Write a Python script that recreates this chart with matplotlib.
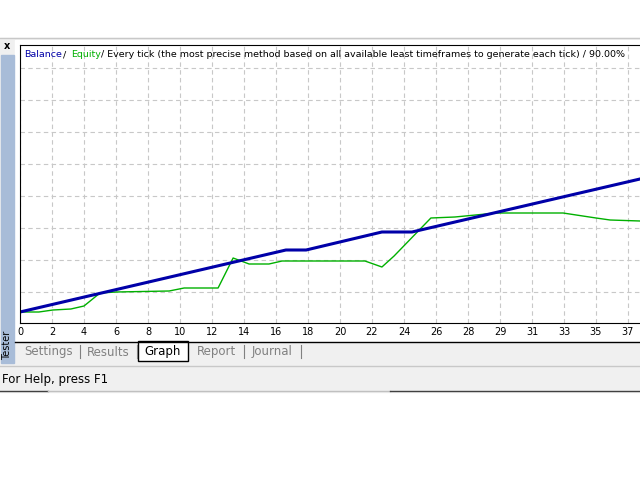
import matplotlib
matplotlib.use('Agg')
import matplotlib.pyplot as plt
from matplotlib.patches import Rectangle

# ── data (x in grid columns, y in chart units) ───────────────────────────
tick_labels = ['0', '2', '4', '6', '8', '10', '12', '14', '16', '18', '20',
               '22', '24', '26', '28', '29', '31', '33', '35', '37']
balance_x = [0, 8.31, 8.94, 11.31, 12.25, 19.375]
balance_y = [11, 73, 73, 91, 91, 144]
equity_x = [0, 0.59, 1.03, 1.59, 2.0, 2.5, 3.0, 4.66, 5.13, 6.19, 6.66, 7.16,
            7.78, 8.19, 10.78, 11.31, 11.69, 12.84, 13.59, 14.88, 16.97,
            18.0, 18.44, 19.375]
equity_y = [11, 11, 13, 14, 17, 30, 31, 32, 35, 35, 65, 59, 59, 62, 62, 56,
            67, 105, 106, 110, 110, 105, 103, 102]

W, H = 640, 480
fig = plt.figure(figsize=(6.4, 4.8), dpi=100)
fig.patch.set_facecolor('white')

def px(x0, y0, w, h):
    return [x0 / W, 1 - (y0 + h) / H, w / W, h / H]

bg = fig.add_axes([0, 0, 1, 1], zorder=0)
bg.set_xlim(0, W); bg.set_ylim(H, 0); bg.axis('off')
bg.add_patch(Rectangle((0, 38), W, 354, color='#f0f0f0'))
bg.add_patch(Rectangle((15, 40), W, 302, color='white'))
bg.plot([0, 640], [38, 38], color='#c8c8c8', lw=1)
bg.add_patch(Rectangle((1, 55), 13, 308, color='#a8bcd8'))
bg.text(7, 46, 'x', fontsize=7, fontweight='bold', ha='center', va='center')
bg.text(7, 345, 'Tester', fontsize=7, rotation=90, ha='center', va='center')
# tabs
bg.plot([15, 640], [342, 342], color='black', lw=1)
bg.add_patch(Rectangle((138, 341), 50, 20, facecolor='white', edgecolor='black', lw=1))
for lbl, xc, c in [('Settings', 49, '#808080'), ('Results', 108, '#808080'),
                   ('Graph', 163, 'black'), ('Report', 216, '#808080'),
                   ('Journal', 272, '#808080')]:
    bg.text(xc, 352, lbl, fontsize=8.5, color=c, ha='center', va='center')
for xs in [80, 137, 244, 301]:
    bg.plot([xs, xs], [345, 358], color='#808080', lw=0.8)
bg.plot([0, 640], [366, 366], color='#c8c8c8', lw=1)
bg.text(2, 380, 'For Help, press F1', fontsize=8.5, ha='left', va='center')
bg.plot([0, 48], [391, 391], color='#404040', lw=1)
bg.plot([48, 390], [391, 391], color='#c0c0c0', lw=1)
bg.plot([390, 640], [391, 391], color='#404040', lw=1)

ax = fig.add_axes(px(20, 45, 620, 278), zorder=1)
ax.set_xlim(0, 19.375)
ax.set_ylim(0, 278)
ax.plot(equity_x, equity_y, color='#00b000', lw=1)
ax.plot(balance_x, balance_y, color='#0000a8', lw=2.2)
ax.set_xticks(range(len(tick_labels)))
ax.set_xticklabels(tick_labels, fontsize=7)
ax.set_yticks([31, 63, 95, 127, 159, 191, 223, 255])
ax.set_yticklabels([])
ax.tick_params(length=0, pad=3)
ax.grid(color='#c8c8c8', linestyle=(0, (4, 3)), lw=0.8)
for s in ax.spines.values():
    s.set_color('black')
ax.spines['right'].set_visible(False)

ax.text(0.006, 0.965, 'Balance', color='#0000a8', fontsize=6.8, transform=ax.transAxes, va='center')
ax.text(0.070, 0.965, '/', color='black', fontsize=6.8, transform=ax.transAxes, va='center')
ax.text(0.082, 0.965, 'Equity', color='#00b000', fontsize=6.8, transform=ax.transAxes, va='center')
ax.text(0.131, 0.965, '/ Every tick (the most precise method based on all available least timeframes to generate each tick) / 90.00%',
        color='black', fontsize=6.8, transform=ax.transAxes, va='center')

plt.savefig('out.png', dpi=100)
